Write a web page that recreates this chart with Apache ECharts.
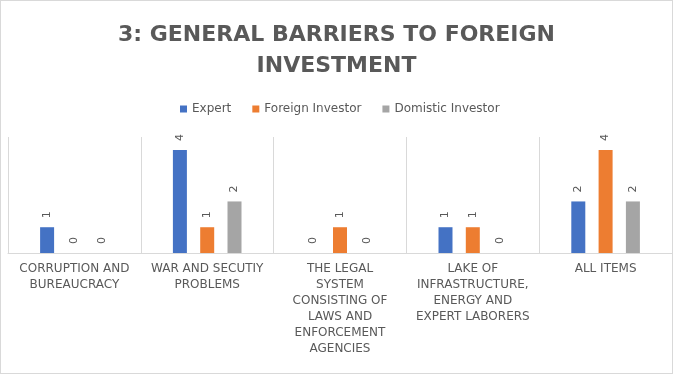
<!DOCTYPE html>
<html>
<head>
<meta charset="utf-8">
<script src="https://cdn.jsdelivr.net/npm/echarts@6/dist/echarts.min.js"></script>
<style>
html,body{margin:0;padding:0;background:#fff;}
#c{width:671px;height:372px;border:1px solid #d9d9d9;}
</style>
</head>
<body>
<div id="c"></div>
<script>
const titleText = '3: GENERAL BARRIERS TO FOREIGN\nINVESTMENT';
const categories = [
  'CORRUPTION AND\nBUREAUCRACY',
  'WAR AND SECUTIY\nPROBLEMS',
  'THE LEGAL\nSYSTEM\nCONSISTING OF\nLAWS AND\nENFORCEMENT\nAGENCIES',
  'LAKE OF\nINFRASTRUCTURE,\nENERGY AND\nEXPERT LABORERS',
  'ALL ITEMS'
];
const seriesNames = ['Expert', 'Foreign Investor', 'Domistic Investor'];
const expert = [1, 4, 0, 1, 2];
const foreignInvestor = [0, 1, 1, 1, 4];
const domisticInvestor = [0, 2, 0, 0, 2];
const colors = ['#4472C4', '#ED7D31', '#A5A5A5'];

const chart = echarts.init(document.getElementById('c'));
const labelCfg = {
  show: true,
  position: 'top',
  rotate: 90,
  align: 'left',
  verticalAlign: 'middle',
  distance: 9,
  color: '#595959',
  fontFamily: 'DejaVu Sans',
  fontSize: 11
};
const dataSets = [expert, foreignInvestor, domisticInvestor];
chart.setOption({
  animation: false,
  title: {
    text: titleText,
    left: 'center',
    top: 14,
    textStyle: {
      fontFamily: 'DejaVu Sans',
      fontWeight: 'bold',
      fontSize: 22,
      lineHeight: 31,
      color: '#595959'
    }
  },
  legend: {
    data: seriesNames,
    left: 174,
    top: 97,
    icon: 'rect',
    itemWidth: 7,
    itemHeight: 7,
    itemGap: 21,
    textStyle: { fontFamily: 'DejaVu Sans', fontSize: 12, color: '#595959' }
  },
  grid: { left: 7, right: 0, top: 136, bottom: 120, containLabel: false },
  xAxis: {
    type: 'category',
    data: categories,
    axisLine: { show: true, lineStyle: { color: '#d9d9d9', width: 1 } },
    axisTick: { show: false },
    splitLine: { show: true, lineStyle: { color: '#d9d9d9', width: 1 } },
    axisLabel: {
      interval: 0,
      margin: 8,
      color: '#595959',
      fontFamily: 'DejaVu Sans',
      fontSize: 12,
      lineHeight: 16
    }
  },
  yAxis: {
    type: 'value',
    min: 0,
    max: 4.5,
    show: false,
    splitLine: { show: false }
  },
  series: seriesNames.map((n, i) => ({
    name: n,
    type: 'bar',
    data: dataSets[i],
    barWidth: 14,
    barGap: '95%',
    itemStyle: { color: colors[i] },
    label: labelCfg
  }))
});
</script>
</body>
</html>
